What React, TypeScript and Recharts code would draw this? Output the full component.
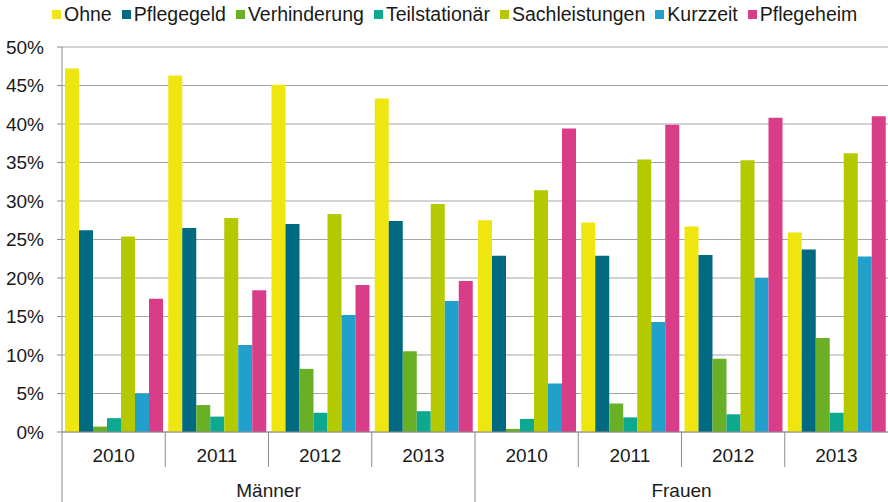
import React from "react";
import { Bar, BarChart, CartesianGrid, XAxis, YAxis } from "recharts";

const YEARS = ["2010", "2011", "2012", "2013", "2010", "2011", "2012", "2013"];
const GENDERS = ["Männer", "Männer", "Männer", "Männer", "Frauen", "Frauen", "Frauen", "Frauen"];
const Y_TICKS = [0, 5, 10, 15, 20, 25, 30, 35, 40, 45, 50];

const ohne = [47.2, 46.3, 45.1, 43.3, 27.5, 27.2, 26.7, 25.9];
const pflegegeld = [26.2, 26.5, 27.0, 27.4, 22.9, 22.9, 23.0, 23.7];
const verhinderung = [0.7, 3.5, 8.2, 10.5, 0.4, 3.7, 9.5, 12.2];
const teilstationaer = [1.8, 2.0, 2.5, 2.7, 1.7, 1.9, 2.3, 2.5];
const sachleistungen = [25.4, 27.8, 28.3, 29.6, 31.4, 35.4, 35.3, 36.2];
const kurzzeit = [5.0, 11.3, 15.2, 17.0, 6.3, 14.3, 20.0, 22.8];
const pflegeheim = [17.3, 18.4, 19.1, 19.6, 39.4, 39.9, 40.8, 41.0];

const SERIES = [
  { key: "ohne", label: "Ohne", color: "#efe50f", values: ohne },
  { key: "pflegegeld", label: "Pflegegeld", color: "#006a80", values: pflegegeld },
  { key: "verhinderung", label: "Verhinderung", color: "#6ab026", values: verhinderung },
  { key: "teilstationaer", label: "Teilstationär", color: "#0ca890", values: teilstationaer },
  { key: "sachleistungen", label: "Sachleistungen", color: "#b5c900", values: sachleistungen },
  { key: "kurzzeit", label: "Kurzzeit", color: "#21a0cc", values: kurzzeit },
  { key: "pflegeheim", label: "Pflegeheim", color: "#da3d87", values: pflegeheim },
];

const data = YEARS.map((year, i) => {
  const row: Record<string, string | number> = { id: `${GENDERS[i]}-${year}` };
  SERIES.forEach((s) => {
    row[s.key] = s.values[i];
  });
  return row;
});

const WIDTH = 888;
const HEIGHT = 502;
const Y_AXIS_W = 62;
const BAND = (WIDTH - Y_AXIS_W) / YEARS.length;
const AXIS_ROW = 35;
const FONT = "'Liberation Sans', Arial, sans-serif";
const LINE = "#8c8c8c";

function YearTick(props: any) {
  const { x, y, index } = props;
  return (
    <g>
      <text x={x} y={y} dy={30} textAnchor="middle" fontSize={19} fill="#1a1a1a" fontFamily={FONT}>
        {YEARS[index]}
      </text>
      {index === 0 ? (
        <line x1={x - BAND / 2} x2={x - BAND / 2} y1={y} y2={y + AXIS_ROW} stroke={LINE} />
      ) : null}
      {index < YEARS.length - 1 ? (
        <line x1={x + BAND / 2} x2={x + BAND / 2} y1={y} y2={y + AXIS_ROW} stroke={LINE} />
      ) : null}
    </g>
  );
}

function GenderTick(props: any) {
  const { x, y, index } = props;
  return (
    <g>
      {index === 1 || index === 5 ? (
        <text x={x + BAND / 2} y={y} dy={30} textAnchor="middle" fontSize={19} fill="#1a1a1a" fontFamily={FONT}>
          {GENDERS[index]}
        </text>
      ) : null}
      {index === 0 ? (
        <line x1={x - BAND / 2} x2={x - BAND / 2} y1={y} y2={y + AXIS_ROW} stroke={LINE} />
      ) : null}
      {index === 3 ? (
        <line x1={x + BAND / 2} x2={x + BAND / 2} y1={y} y2={y + AXIS_ROW} stroke={LINE} />
      ) : null}
    </g>
  );
}

export default function App() {
  return (
    <div style={{ position: "absolute", left: 0, top: 0, width: WIDTH, height: HEIGHT, background: "#fff" }}>
      <div
        style={{
          position: "absolute",
          left: 52,
          top: 4,
          display: "flex",
          alignItems: "center",
          fontFamily: FONT,
          fontSize: 19.5,
          lineHeight: "20px",
          color: "#1a1a1a",
          whiteSpace: "nowrap",
        }}
      >
        {SERIES.map((s) => (
          <span key={s.key} style={{ display: "inline-flex", alignItems: "center", marginRight: 10 }}>
            <span style={{ display: "inline-block", width: 9, height: 9, background: s.color, marginRight: 3 }} />
            {s.label}
          </span>
        ))}
      </div>
      <BarChart
        width={WIDTH}
        height={HEIGHT}
        data={data}
        margin={{ top: 47, right: 0, bottom: 0, left: 0 }}
        barCategoryGap={3}
        barGap={0}
      >
        <CartesianGrid vertical={false} stroke="#a6a6a6" />
        <XAxis
          dataKey="id"
          height={AXIS_ROW}
          axisLine={{ stroke: LINE }}
          tickLine={false}
          tickSize={0}
          tickMargin={0}
          interval={0}
          tick={<YearTick />}
        />
        <XAxis
          xAxisId="g"
          dataKey="id"
          height={AXIS_ROW}
          axisLine={false}
          tickLine={false}
          tickSize={0}
          tickMargin={0}
          interval={0}
          tick={<GenderTick />}
        />
        <YAxis
          width={Y_AXIS_W}
          domain={[0, 50]}
          ticks={Y_TICKS}
          interval={0}
          tickFormatter={(v: number) => `${v}%`}
          axisLine={{ stroke: LINE }}
          tickLine={{ stroke: LINE }}
          tickSize={5}
          tickMargin={13}
          tick={{ fontSize: 19, fill: "#1a1a1a", fontFamily: FONT }}
        />
        {SERIES.map((s) => (
          <Bar key={s.key} dataKey={s.key} name={s.label} fill={s.color} isAnimationActive={false} />
        ))}
      </BarChart>
    </div>
  );
}
